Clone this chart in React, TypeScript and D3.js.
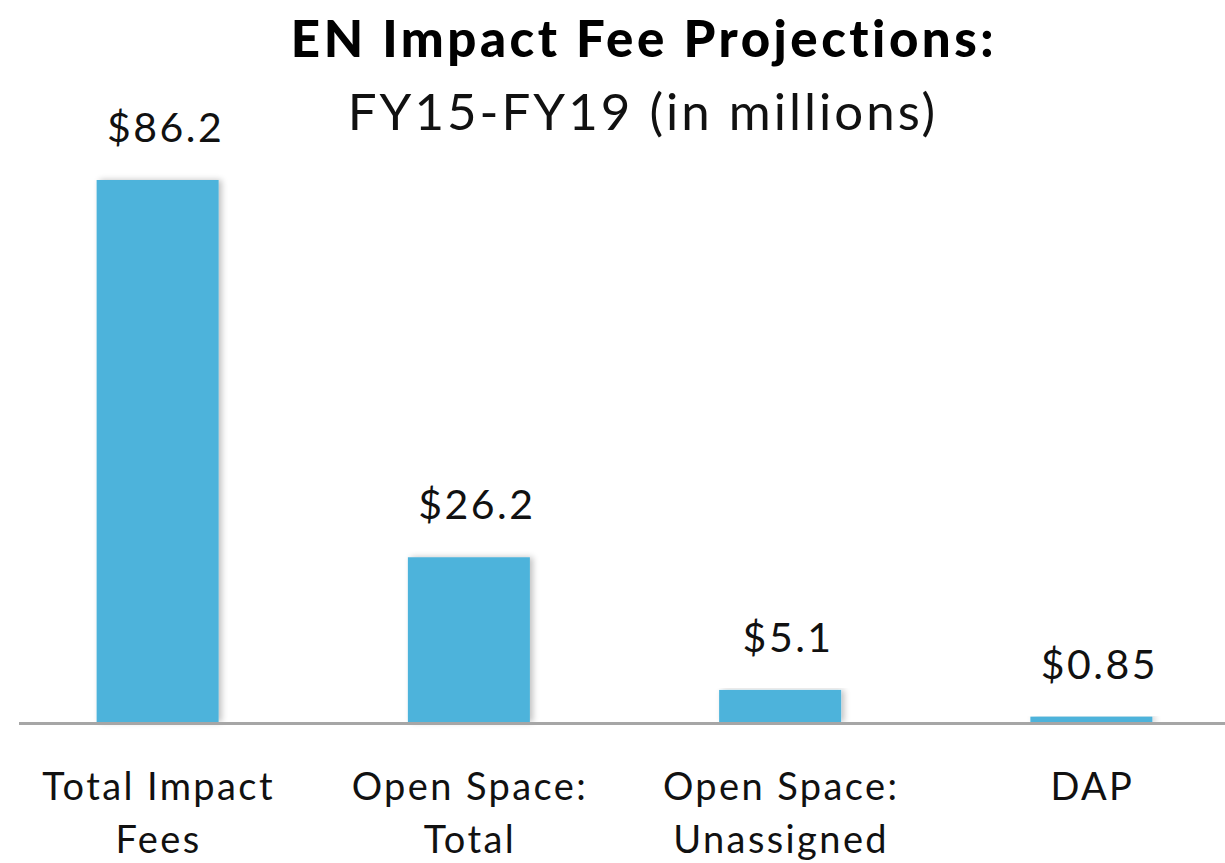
import React from "react";
import * as d3 from "d3";

const categories: string[][] = [
  ["Total Impact", "Fees"],
  ["Open Space:", "Total"],
  ["Open Space:", "Unassigned"],
  ["DAP"],
];
const values: number[] = [86.2, 26.2, 5.1, 0.85];
const valueLabels: string[] = ["$86.2", "$26.2", "$5.1", "$0.85"];
const titleLine1 = "EN Impact Fee Projections:";
const titleLine2 = "FY15-FY19 (in millions)";

const W = 1225;
const H = 863;
const FONT = "Lato, 'Open Sans', sans-serif";

export default function App() {
  const keys = categories.map((_, i) => String(i));
  const x = d3
    .scaleBand<string>()
    .domain(keys)
    .range([2, 1247])
    .paddingInner(0.608)
    .paddingOuter(0.304);
  const baseline = 722;
  const y = d3.scaleLinear().domain([0, 86.2]).range([baseline, 180]);
  const bw = x.bandwidth();

  return (
    <svg
      width={W}
      height={H}
      style={{ position: "absolute", left: 0, top: 0, background: "#fff" }}
    >
      <defs>
        <filter id="shadow" x="-20%" y="-5%" width="140%" height="110%">
          <feGaussianBlur in="SourceAlpha" stdDeviation="3" />
          <feOffset dx="3" dy="0" result="b" />
          <feComponentTransfer>
            <feFuncA type="linear" slope="0.25" />
          </feComponentTransfer>
          <feMerge>
            <feMergeNode />
            <feMergeNode in="SourceGraphic" />
          </feMerge>
        </filter>
      </defs>
      <text
        x={644}
        y={57}
        textAnchor="middle"
        fontFamily={FONT}
        fontWeight={900}
        fontSize={51}
        fill="#000"
        letterSpacing={3.5}
      >
        {titleLine1}
      </text>
      <text
        x={643}
        y={130}
        textAnchor="middle"
        fontFamily={FONT}
        fontSize={51}
        fill="#111"
        letterSpacing={3}
      >
        {titleLine2}
      </text>
      {values.map((v, i) => {
        const x0 = x(String(i))!;
        return (
          <g key={i}>
            <rect
              x={x0}
              y={y(v)}
              width={bw}
              height={baseline - y(v)}
              fill="#4db3db"
              filter="url(#shadow)"
            />
            <text
              x={x0 + bw / 2 + 8}
              y={y(v) - 38}
              textAnchor="middle"
              fontFamily={FONT}
              fontSize={41}
              fill="#111"
              letterSpacing={2.5}
            >
              {valueLabels[i]}
            </text>
            <text
              textAnchor="middle"
              fontFamily={FONT}
              fontSize={38}
              fill="#111"
              letterSpacing={2.4}
            >
              {categories[i].map((line, j) => (
                <tspan key={j} x={x0 + bw / 2 + 1} y={800 + j * 53}>
                  {line}
                </tspan>
              ))}
            </text>
          </g>
        );
      })}
      <line x1={19} x2={W} y1={723.5} y2={723.5} stroke="#a6a6a6" strokeWidth={3} />
    </svg>
  );
}
